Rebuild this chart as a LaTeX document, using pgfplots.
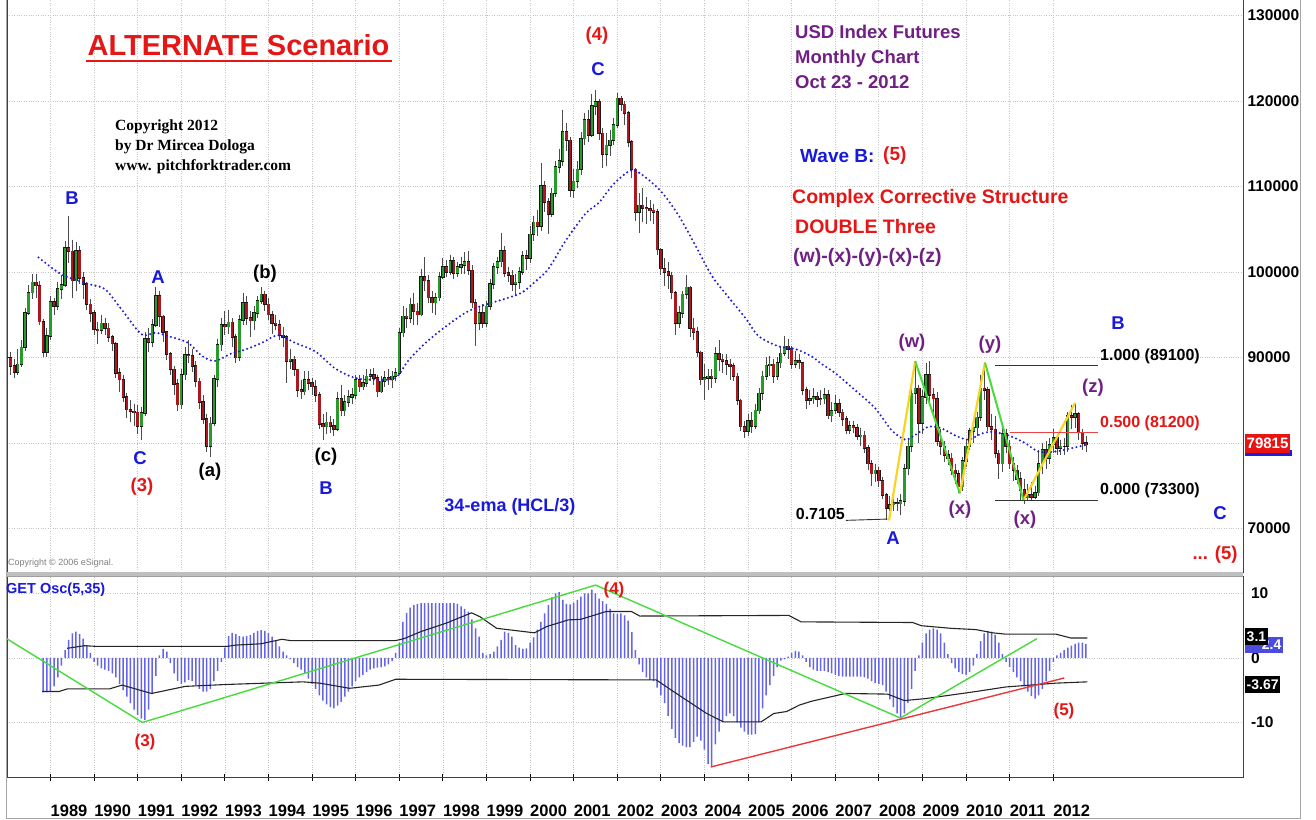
\documentclass[border=0pt]{standalone}
\usepackage{fontspec}
\setmainfont{Liberation Sans}
\newfontfamily\timesfont{Liberation Serif}
\usepackage{pgfplots}
\usepackage{pgfplotstable}
\pgfplotsset{compat=1.18}

\definecolor{upgreen}{RGB}{40,155,45}
\definecolor{dnred}{RGB}{170,25,30}
\definecolor{emablue}{RGB}{30,30,215}
\definecolor{histblue}{RGB}{100,100,232}
\definecolor{wpurple}{RGB}{112,32,132}
\definecolor{lblred}{RGB}{228,22,22}
\definecolor{lblblue}{RGB}{25,25,220}
\definecolor{trgreen}{RGB}{70,220,60}
\definecolor{tryellow}{RGB}{250,212,35}
\definecolor{boxred}{RGB}{232,20,20}
\newcommand{\fs}[1]{\fontsize{#1}{#1}\selectfont}

% monthly candles, Jan 1988 .. Oct 2012 (close, high, low); open = previous close
\pgfplotstableread[row sep=\\]{
c h l\\
90.0 92.8 89.0\\ 89.0 90.6 88.0\\ 88.3 89.8 87.6\\ 89.2 91.0 87.9\\ 91.2 92.0 88.9\\ 95.2 95.8 90.8\\
97.6 98.5 95.0\\ 98.8 99.8 96.8\\ 98.4 99.8 97.0\\ 94.2 98.9 93.8\\ 90.6 94.5 90.0\\ 92.5 93.5 90.0\\
96.5 97.2 92.0\\ 96.0 97.0 95.0\\ 98.0 98.8 95.5\\ 98.5 99.6 96.8\\ 102.8 103.6 98.2\\ 102.4 106.6 101.0\\
99.0 103.8 97.0\\ 102.5 103.5 97.8\\ 99.3 103.0 98.6\\ 98.6 100.0 96.8\\ 96.2 98.8 95.6\\ 95.2 96.8 94.2\\
93.3 95.6 92.6\\ 93.2 94.2 91.6\\ 94.0 95.0 92.8\\ 93.4 94.6 92.6\\ 92.4 94.0 91.8\\ 91.6 92.6 90.8\\
88.2 91.8 87.6\\ 87.4 88.8 86.0\\ 85.4 88.0 84.8\\ 83.9 85.8 82.9\\ 83.7 85.0 82.4\\ 83.6 84.6 82.0\\
82.0 84.4 81.0\\ 83.5 84.2 80.4\\ 92.2 93.0 83.2\\ 91.8 93.4 90.6\\ 93.8 94.5 91.2\\ 97.2 98.3 93.6\\
94.8 97.8 93.6\\ 93.0 95.0 91.8\\ 90.4 92.6 89.7\\ 88.6 90.6 88.0\\ 86.9 89.0 85.6\\ 84.5 87.5 83.7\\
88.0 88.6 84.0\\ 90.3 91.2 87.4\\ 90.2 92.0 89.4\\ 89.0 91.0 88.3\\ 87.2 89.6 86.6\\ 84.8 87.6 84.0\\
82.8 85.6 82.2\\ 79.6 83.4 79.0\\ 82.3 83.0 78.4\\ 87.5 88.0 82.0\\ 91.5 92.2 86.5\\ 93.8 94.6 90.8\\
93.6 95.4 92.6\\ 94.1 95.6 92.8\\ 92.4 94.6 91.2\\ 90.0 92.8 89.3\\ 94.4 95.0 89.6\\ 96.4 97.5 93.8\\
94.6 97.2 93.8\\ 94.3 95.4 92.4\\ 95.2 96.0 93.2\\ 96.6 97.2 94.6\\ 97.4 98.2 96.2\\ 96.2 97.8 95.4\\
95.0 97.0 94.4\\ 94.0 95.4 92.8\\ 93.8 95.0 93.2\\ 92.6 94.4 92.0\\ 92.4 93.6 91.2\\ 89.6 92.6 87.0\\
89.8 91.0 88.6\\ 88.6 90.2 87.8\\ 86.2 88.6 85.4\\ 86.0 87.4 85.2\\ 87.4 88.4 85.6\\ 87.0 88.4 86.2\\
86.6 87.6 85.6\\ 85.6 87.4 84.8\\ 82.2 86.0 81.6\\ 81.9 83.4 80.4\\ 82.4 83.6 81.0\\ 82.0 83.2 81.2\\
81.6 82.8 80.8\\ 85.2 86.0 81.4\\ 83.8 86.8 83.2\\ 84.8 85.6 83.2\\ 85.4 86.2 84.2\\ 85.6 86.4 84.6\\
87.4 88.0 85.2\\ 86.6 88.0 86.0\\ 87.0 88.0 86.2\\ 87.8 88.6 86.6\\ 88.0 88.6 87.2\\ 87.6 88.8 86.8\\
86.0 88.0 85.4\\ 87.2 87.8 85.8\\ 87.6 88.4 86.6\\ 87.4 88.6 86.8\\ 87.8 88.4 86.4\\ 88.2 88.8 87.2\\
92.9 93.4 88.0\\ 94.8 96.0 92.4\\ 94.6 95.8 93.4\\ 96.2 97.0 94.0\\ 95.4 97.6 93.8\\ 95.0 96.4 93.8\\
99.4 100.4 94.8\\ 99.0 101.7 97.8\\ 97.0 99.6 96.4\\ 96.4 97.8 95.2\\ 97.0 97.6 95.0\\ 99.4 100.0 96.6\\
100.6 101.6 99.2\\ 100.0 101.4 99.4\\ 101.3 102.0 99.6\\ 99.9 101.8 99.2\\ 100.6 101.2 99.4\\ 100.8 101.8 99.8\\
101.2 102.3 99.8\\ 100.2 102.4 99.6\\ 96.4 100.8 95.8\\ 94.0 96.8 91.4\\ 95.2 96.0 93.2\\ 94.0 96.2 93.4\\
96.0 96.6 93.6\\ 98.6 99.2 95.6\\ 100.6 101.0 98.0\\ 101.2 101.8 99.8\\ 102.5 104.6 100.6\\ 99.9 103.0 99.4\\
99.6 100.6 98.8\\ 98.6 100.2 97.8\\ 98.8 99.8 97.2\\ 100.0 100.6 98.0\\ 101.9 102.4 99.6\\ 101.6 102.6 100.2\\
104.4 105.4 101.0\\ 105.8 106.6 103.6\\ 105.4 107.2 104.2\\ 110.1 112.7 104.8\\ 108.2 110.6 107.0\\ 106.8 108.6 104.4\\
109.2 109.8 106.4\\ 112.3 113.0 108.8\\ 113.0 114.4 111.6\\ 116.4 118.9 112.4\\ 115.4 117.4 114.2\\ 109.6 115.8 108.8\\
110.6 112.0 108.6\\ 112.0 113.0 109.8\\ 115.6 116.4 111.4\\ 117.8 118.6 114.8\\ 116.0 119.0 115.2\\ 119.4 120.8 115.8\\
119.9 121.3 118.4\\ 116.2 120.2 115.4\\ 113.8 116.8 112.2\\ 114.8 116.2 112.4\\ 115.4 116.6 113.6\\ 117.2 118.0 114.8\\
120.3 120.9 116.8\\ 119.6 120.6 118.8\\ 118.6 120.0 117.2\\ 115.2 118.8 114.6\\ 112.0 115.4 111.0\\ 107.0 112.2 106.0\\
107.8 109.2 104.6\\ 107.5 109.8 105.8\\ 107.4 108.8 105.6\\ 107.2 108.4 106.0\\ 107.0 108.0 105.6\\ 102.6 107.4 102.0\\
100.4 102.8 99.6\\ 100.0 101.6 98.4\\ 99.6 101.2 98.0\\ 97.6 100.0 96.8\\ 94.0 97.8 92.6\\ 95.2 96.0 93.4\\
97.4 97.8 94.6\\ 98.2 99.6 96.8\\ 93.4 98.4 92.4\\ 93.0 94.6 92.0\\ 90.6 93.6 90.0\\ 87.4 90.8 86.8\\
87.6 89.2 85.0\\ 87.8 88.6 86.2\\ 87.6 88.6 86.4\\ 90.4 91.2 87.0\\ 89.8 92.0 88.4\\ 89.6 90.4 88.2\\
89.2 90.4 88.0\\ 89.0 89.8 87.4\\ 87.8 89.4 87.2\\ 85.0 88.2 84.4\\ 81.9 85.2 81.4\\ 81.4 82.6 80.6\\
82.6 83.4 80.8\\ 82.0 83.6 81.2\\ 83.8 84.6 81.6\\ 85.8 86.4 83.4\\ 87.8 88.4 85.0\\ 89.1 90.0 87.4\\
89.2 90.2 87.8\\ 87.8 89.8 87.0\\ 89.4 90.0 87.4\\ 90.5 91.2 88.8\\ 91.3 92.5 90.2\\ 91.0 92.2 89.8\\
89.2 91.4 88.6\\ 89.6 90.8 88.8\\ 89.4 90.4 88.6\\ 86.2 89.4 85.6\\ 85.0 86.6 84.0\\ 85.2 86.2 84.4\\
85.4 86.4 84.6\\ 85.1 86.0 84.2\\ 85.2 86.2 84.4\\ 85.6 86.4 84.6\\ 83.2 86.2 82.8\\ 83.8 84.8 82.4\\
84.6 85.6 83.4\\ 83.6 85.2 83.0\\ 82.8 84.0 82.0\\ 81.5 83.2 81.0\\ 82.0 82.6 81.0\\ 81.8 82.6 81.2\\
80.8 82.2 80.4\\ 80.9 81.8 79.6\\ 79.4 81.4 78.8\\ 77.6 79.8 76.8\\ 76.4 78.0 75.0\\ 76.8 77.6 75.4\\
75.6 77.2 74.8\\ 73.9 76.0 73.4\\ 72.4 74.2 71.0\\ 72.8 73.8 72.0\\ 73.0 73.8 72.0\\ 72.9 73.6 72.0\\
73.2 74.0 71.6\\ 77.0 77.6 72.6\\ 79.6 80.6 76.2\\ 85.8 87.0 79.0\\ 86.4 89.6 84.6\\ 82.3 86.8 80.0\\
85.4 86.2 81.0\\ 88.0 89.4 84.6\\ 85.6 89.6 84.6\\ 85.2 86.4 83.2\\ 80.2 86.0 79.6\\ 79.6 81.6 78.6\\
78.6 80.2 77.8\\ 78.2 79.2 77.4\\ 76.8 78.8 76.2\\ 76.4 77.6 75.2\\ 74.9 76.8 74.1\\ 77.9 78.4 74.4\\
79.6 80.4 77.2\\ 81.4 81.8 79.2\\ 81.8 82.4 80.0\\ 83.0 83.6 80.8\\ 86.4 88.0 82.6\\ 86.2 89.4 85.0\\
81.9 86.6 81.4\\ 81.6 83.4 80.4\\ 78.8 83.2 78.2\\ 77.6 79.2 75.8\\ 81.1 81.8 76.6\\ 79.6 81.6 78.8\\
77.6 80.4 77.0\\ 76.8 78.4 75.6\\ 75.8 77.4 75.2\\ 74.5 76.6 73.2\\ 73.6 75.8 72.9\\ 73.9 75.2 73.2\\
73.7 75.4 73.2\\ 74.2 75.0 73.4\\ 77.6 79.2 73.8\\ 79.2 80.0 76.4\\ 78.2 80.2 77.0\\ 79.8 80.6 77.6\\
80.6 81.6 78.8\\ 79.4 81.0 78.6\\ 79.6 80.4 78.6\\ 79.6 80.6 78.6\\ 83.2 83.6 78.9\\ 83.0 84.4 81.6\\
83.4 84.6 81.8\\ 81.2 83.6 80.4\\ 80.0 81.6 79.2\\ 79.8 80.8 79.0\\
}\prices
\pgfplotstablecreatecol[create col/expr={1988+\pgfplotstablerow/12}]{t}\prices
\pgfplotstablecreatecol[create col/assign/.code={%
  \ifnum\pgfplotstablerow=0 \getthisrow{c}{\pc}\else\getprevrow{c}{\pc}\fi
  \pgfkeyslet{/pgfplots/table/create col/next content}\pc}]{o}\prices

% 34-ema (HCL/3) (m = months since Jan 1988)
\pgfplotstableread[row sep=\\]{
m p\\
8.7 101.7\\ 15.1 99.7\\ 22.4 98.6\\ 27 98.0\\ 31.6 95.6\\ 37.1 92.7\\ 40.8 92.9\\ 44.4 92.5\\
49.9 91.7\\ 53.6 90.2\\ 57.3 89.6\\ 61.9 90.5\\ 65.5 90.9\\ 70.1 91.7\\ 74.7 92.6\\ 79.4 91.7\\
84.9 90.7\\ 90.4 88.7\\ 95.9 87.6\\ 101.4 87.4\\ 106.9 87.6\\ 110.6 89.7\\ 115.2 91.7\\ 119.8 93.3\\
125.3 95.0\\ 129 95.8\\ 133.5 96.4\\ 138.1 97.0\\ 141.8 97.6\\ 145.5 98.9\\ 149.1 100.4\\ 153.7 103.6\\
159.2 106.8\\ 162.9 108.1\\ 166.6 110.1\\ 170.2 111.5\\ 172.5 111.9\\ 175.7 111.1\\ 180.3 109.3\\ 184.9 106.6\\
189.5 103.1\\ 194.1 99.5\\ 198.7 97.0\\ 203.3 94.6\\ 206.9 92.5\\ 212.4 91.3\\ 217 91.0\\ 221.6 90.1\\
224 89.3\\ 227.9 88.2\\ 233.4 86.2\\ 238.9 84.1\\ 243.5 81.5\\ 247.2 80.4\\ 249.9 80.9\\ 253.6 81.9\\
257.3 81.7\\ 260.9 80.9\\ 264.6 80.4\\ 268.3 81.1\\ 271 81.3\\ 275.6 80.9\\ 280.2 80.0\\ 283.9 79.0\\
288.5 79.0\\ 293.1 79.4\\ 297.2 79.8\\
}\emaline

% GET Osc(5,35) histogram, Nov 1988 .. Oct 2012
\pgfplotstableread[row sep=\\]{
v\\
-5.3\\ -5.3\\ -5.2\\ -4.4\\ -3.0\\ -1.2\\ 1.2\\ 2.8\\ 3.8\\ 4.1\\
3.7\\ 3.0\\ 2.0\\ 0.8\\ -0.6\\ -1.2\\ -1.6\\ -1.8\\ -2.0\\ -2.4\\
-3.0\\ -4.0\\ -5.0\\ -6.0\\ -7.0\\ -8.0\\ -8.8\\ -9.4\\ -9.6\\ -8.0\\
-5.6\\ -2.8\\ 0.4\\ 1.4\\ 1.0\\ -0.8\\ -2.4\\ -3.6\\ -4.0\\ -3.8\\
-3.4\\ -3.6\\ -4.2\\ -4.8\\ -5.2\\ -5.2\\ -4.8\\ -3.6\\ -2.0\\ -0.6\\
1.6\\ 3.4\\ 3.9\\ 3.7\\ 3.4\\ 3.3\\ 3.4\\ 3.6\\ 3.9\\ 4.2\\
4.3\\ 4.2\\ 3.9\\ 3.3\\ 2.6\\ 1.8\\ 1.0\\ 0.4\\ -0.2\\ -0.8\\
-1.4\\ -1.8\\ -2.4\\ -3.2\\ -4.0\\ -4.8\\ -5.8\\ -6.6\\ -7.2\\ -7.6\\
-7.8\\ -7.4\\ -6.8\\ -6.0\\ -5.2\\ -4.4\\ -3.6\\ -3.0\\ -2.6\\ -2.2\\
-1.8\\ -1.6\\ -1.5\\ -1.4\\ -1.3\\ -1.0\\ -0.5\\ 0.8\\ 2.4\\ 5.6\\
7.0\\ 7.8\\ 8.2\\ 8.4\\ 8.5\\ 8.5\\ 8.5\\ 8.5\\ 8.5\\ 8.5\\
8.5\\ 8.5\\ 8.5\\ 8.5\\ 8.4\\ 8.0\\ 7.6\\ 7.2\\ 6.0\\ 4.6\\
3.3\\ 0.8\\ 0.4\\ 0.6\\ 1.0\\ 1.8\\ 2.8\\ 4.1\\ 3.9\\ 3.3\\
2.0\\ 1.6\\ 1.4\\ 1.5\\ 2.4\\ 3.2\\ 4.4\\ 5.6\\ 6.9\\ 8.2\\
9.4\\ 10.0\\ 10.2\\ 9.0\\ 8.4\\ 8.3\\ 8.6\\ 9.0\\ 9.5\\ 10.0\\
10.0\\ 10.6\\ 10.0\\ 9.2\\ 8.8\\ 8.4\\ 7.6\\ 6.9\\ 6.8\\ 6.9\\
6.6\\ 5.8\\ 4.0\\ 1.2\\ -1.0\\ -2.2\\ -3.0\\ -3.4\\ -3.6\\ -4.6\\
-5.8\\ -7.0\\ -9.0\\ -11.0\\ -12.4\\ -13.2\\ -13.6\\ -13.8\\ -13.8\\ -13.0\\
-12.2\\ -12.8\\ -14.2\\ -16.4\\ -16.8\\ -13.4\\ -11.4\\ -9.8\\ -9.0\\ -8.6\\
-9.0\\ -10.0\\ -10.8\\ -11.4\\ -11.9\\ -11.9\\ -11.8\\ -10.0\\ -7.8\\ -5.8\\
-4.2\\ -2.8\\ -1.4\\ -0.4\\ -0.2\\ 0.2\\ 0.8\\ 1.1\\ 1.0\\ 0.4\\
-0.6\\ -1.4\\ -1.8\\ -2.0\\ -2.0\\ -2.0\\ -2.2\\ -2.4\\ -2.6\\ -2.8\\
-2.9\\ -2.9\\ -2.9\\ -2.9\\ -2.9\\ -2.9\\ -3.0\\ -3.2\\ -3.6\\ -3.9\\
-4.0\\ -4.2\\ -5.2\\ -6.4\\ -7.6\\ -8.6\\ -9.3\\ -8.6\\ -7.0\\ -4.8\\
-2.0\\ 0.4\\ 2.4\\ 3.8\\ 4.4\\ 4.6\\ 4.4\\ 3.8\\ 2.4\\ 0.6\\
-0.8\\ -1.6\\ -2.2\\ -2.5\\ -2.6\\ -2.2\\ -1.2\\ 0.6\\ 2.6\\ 3.8\\
4.2\\ 4.1\\ 3.6\\ 2.4\\ 0.6\\ -0.6\\ -1.4\\ -2.2\\ -3.0\\ -3.6\\
-4.4\\ -5.2\\ -5.9\\ -6.3\\ -5.8\\ -4.8\\ -3.6\\ -2.0\\ -0.6\\ 0.4\\
0.8\\ 1.2\\ 1.6\\ 1.9\\ 2.2\\ 2.4\\ 2.4\\ 2.2\\
}\oschist
\pgfplotstablecreatecol[create col/expr={1988+(\pgfplotstablerow+10)/12}]{t}\oschist

% oscillator bands
\pgfplotstableread[row sep=\\]{
m v\\
16.6 1.5\\ 21.3 1.9\\ 24.7 1.8\\ 60.7 1.8\\ 63 2.0\\ 69.9 2.2\\ 75.7 2.9\\ 78 2.7\\ 107 2.7\\
109.3 3.0\\ 114 4.1\\ 120.9 5.4\\ 127.9 7.0\\ 130.2 6.4\\ 134.8 4.6\\ 145.2 3.9\\ 148.7 4.9\\
154.5 5.9\\ 158 6.0\\ 164.9 7.2\\ 171.9 7.2\\ 174.2 6.5\\ 215.2 6.6\\ 218.6 5.6\\ 249.3 5.5\\
251.7 5.0\\ 259.8 4.6\\ 266.7 4.4\\ 271.3 3.9\\ 274.8 3.7\\ 288.7 3.7\\ 292.8 3.1\\ 297.4 3.1\\
}\upband
\pgfplotstableread[row sep=\\]{
m v\\
9.7 -5.2\\ 14.3 -5.2\\ 16.6 -4.8\\ 28.2 -4.8\\ 31.7 -4.2\\ 39.8 -5.5\\ 49.1 -4.4\\ 60.7 -4.1\\
81.5 -3.7\\ 86.1 -3.9\\ 94.3 -4.7\\ 102.4 -4.2\\ 107 -3.3\\ 178.7 -3.4\\ 185.6 -6.0\\ 192.6 -8.6\\
197.2 -9.9\\ 207.6 -9.9\\ 211.1 -8.6\\ 214.6 -8.3\\ 218.1 -7.3\\ 221.5 -6.7\\ 230.8 -5.5\\ 242.4 -5.6\\
247 -6.6\\ 252.8 -6.3\\ 266.7 -5.2\\ 274.8 -4.5\\ 288.7 -3.9\\ 297.4 -3.7\\
}\lowband

\pgfplotsset{
  panel/.style={scale only axis, width=1236pt, xmin=1988.0023, xmax=2016.351,
    xtick={1989,...,2012}, grid=major,
    grid style={gray!45, dotted, line width=0.7pt},
    axis line style={black!75, line width=0.9pt},
    yticklabel pos=right,
    yticklabel style={font=\bfseries\fs{15.5}, anchor=west, xshift=1pt}},
  nomark/.style={only marks, mark=*, mark size=0pt, mark options={draw=none, fill=none}},
  body/.style={nomark, unbounded coords=discard,
    error bars/.cd, y dir=both, y explicit, error mark=none,
    error bar style={line width=#1}},
}

\begin{document}
\begin{tikzpicture}[x=1pt,y=1pt]
\fill[white] (0,0) rectangle (1316,819);
\path[use as bounding box] (0,0) rectangle (1316,819);

% price panel
\begin{axis}[panel, at={(7pt,247pt)}, anchor=south west, height=574pt,
  ymin=64.91, ymax=132.05, xticklabels={}, major tick length=0pt,
  ytick={70,80,...,130},
  yticklabels={70000,80000,90000,100000,110000,120000,130000}]
\addplot[nomark,
  error bars/.cd, y dir=minus, y explicit, error mark=none,
  error bar style={line width=0.8pt, black!70}]
  table[x=t, y=h, y error minus expr=\thisrow{h}-\thisrow{l}] {\prices};
\addplot[body=3.3pt, error bar style={black!90}]
  table[x=t, y expr={(\thisrow{o}+\thisrow{c})/2},
        y error expr={abs(\thisrow{c}-\thisrow{o})/2+0.08}] {\prices};
\addplot[body=2.4pt, error bar style={upgreen}]
  table[x=t, y expr={\thisrow{c}>=\thisrow{o} ? (\thisrow{o}+\thisrow{c})/2 : nan},
        y error expr={abs(\thisrow{c}-\thisrow{o})/2}] {\prices};
\addplot[body=2.4pt, error bar style={dnred}]
  table[x=t, y expr={\thisrow{c}<\thisrow{o} ? (\thisrow{o}+\thisrow{c})/2 : nan},
        y error expr={abs(\thisrow{c}-\thisrow{o})/2}] {\prices};
\addplot[emablue, line width=2.3pt, line cap=round, dash pattern=on 0pt off 4.3pt, smooth]
  table[x expr=1988+\thisrow{m}/12, y=p] {\emaline};
% wave overlay
\addplot[tryellow, line width=2.2pt] coordinates {(2008.233,70.95) (2008.833,89.57)};
\addplot[tryellow, line width=2.2pt] coordinates {(2009.858,74.1) (2010.433,89.4)};
\addplot[tryellow, line width=2.2pt] coordinates {(2011.317,73.3) (2012.5,84.7)};
\addplot[trgreen, line width=2.0pt] coordinates {(2008.833,89.57) (2009.858,74.1)};
\addplot[trgreen, line width=2.0pt] coordinates {(2010.433,89.4) (2011.317,73.3)};
% retracement levels
\addplot[black!80, line width=1.2pt] coordinates {(2010.667,89.1) (2013.025,89.1)};
\addplot[lblred!80, line width=1.2pt] coordinates {(2011.0,81.2) (2013.025,81.2)};
\addplot[black!80, line width=1.2pt] coordinates {(2010.667,73.3) (2013.025,73.3)};
\addplot[black!80, line width=0.9pt] coordinates {(2007.242,70.95) (2008.192,71.1)};
\end{axis}

% oscillator panel
\begin{axis}[panel, at={(7pt,42pt)}, anchor=south west, height=201pt,
  ymin=-18.45, ymax=12.71,
  xticklabels={1989,1990,1991,1992,1993,1994,1995,1996,1997,1998,1999,2000,
    2001,2002,2003,2004,2005,2006,2007,2008,2009,2010,2011,2012},
  xtick pos=left, tick align=center, major tick length=7pt,
  xtick style={black, line width=0.8pt},
  xticklabel style={font=\bfseries\fs{16.5}, anchor=north west, inner sep=0pt, yshift=-24pt},
  ytick={-10,0,10}, yticklabels={-10,0,10}, ytick style={draw=none}]
\addplot[ybar, bar width=1.5pt, fill=histblue, draw=none] table[x=t, y=v] {\oschist};
\addplot[black!85, line width=1.1pt] table[x expr=1988+\thisrow{m}/12, y=v] {\upband};
\addplot[black!85, line width=1.1pt] table[x expr=1988+\thisrow{m}/12, y=v] {\lowband};
\addplot[trgreen, line width=1.4pt] coordinates
  {(1987.983,3.05) (1991.108,-10.0) (2001.5,11.3) (2008.492,-9.3) (2011.625,3.0)};
\addplot[lblred!85, line width=1.4pt] coordinates {(2004.142,-16.9) (2012.25,-3.1)};
\end{axis}

% panel separator and outer frame
\fill[gray!50] (7,243) rectangle (1243,247);
\draw[gray!75, line width=0.8pt] (7,243) -- (1243,243);
\draw[gray!70, line width=1pt] (6.5,825) -- (6.5,0.8) -- (1300,0.8) -- (1300,825);

\begin{scope}[every node/.style={inner sep=0pt, font=\bfseries\fs{18.5}}]
% headings
\node[lblred, font=\bfseries\fs{29}] at (238.5,774) {ALTERNATE Scenario};
\draw[lblred, line width=2.5pt] (86,758) -- (392,758);
\node[anchor=west, align=left, font=\timesfont\bfseries\fontsize{15.5}{20}\selectfont]
  at (115,672) {Copyright 2012\\by Dr Mircea Dologa\\www. pitchforktrader.com};
\node[anchor=west, align=left, wpurple, font=\bfseries\fontsize{18.5}{25}\selectfont]
  at (795,762) {USD Index Futures\\Monthly Chart\\Oct 23 - 2012};
\node[anchor=west, lblblue, font=\bfseries\fs{19}] at (800,663) {Wave B:};
\node[anchor=west, lblred, font=\bfseries\fs{19}] at (883,663) {(5)};
\node[anchor=west, lblred, font=\bfseries\fs{19.5}] at (792,621) {Complex Corrective Structure};
\node[anchor=west, lblred, font=\bfseries\fs{19.5}] at (795,592) {DOUBLE Three};
\node[anchor=west, wpurple, font=\bfseries\fs{19.5}] at (793,562) {(w)-(x)-(y)-(x)-(z)};
% wave labels
\node[lblblue] at (72,621) {B};
\node[lblblue] at (158,542) {A};
\node at (265,545) {(b)};
\node[lblblue] at (140,361) {C};
\node[lblred] at (142,332) {(3)};
\node at (210,347) {(a)};
\node at (326,362) {(c)};
\node[lblblue] at (326,331) {B};
\node[lblred] at (597,783) {(4)};
\node[lblblue] at (598,750) {C};
\node[lblblue, font=\bfseries\fs{18}] at (510,312) {34-ema (HCL/3)};
\node[anchor=east, font=\bfseries\fs{16}] at (845,305) {0.7105};
\node[lblblue] at (893,281) {A};
\node[wpurple] at (912,476) {(w)};
\node[wpurple] at (990,474) {(y)};
\node[wpurple] at (960,309) {(x)};
\node[wpurple] at (1025,299) {(x)};
\node[wpurple] at (1093,431) {(z)};
\node[lblblue] at (1118,496) {B};
\node[lblblue] at (1220,306) {C};
\node[lblred] at (1215,264) {... (5)};
\node[anchor=west, font=\bfseries\fs{16}] at (1100,463) {1.000 (89100)};
\node[anchor=west, lblred, font=\bfseries\fs{16}] at (1100,396) {0.500 (81200)};
\node[anchor=west, font=\bfseries\fs{16}] at (1100,329) {0.000 (73300)};
\node[anchor=west, gray, font=\fs{9}] at (8,256) {Copyright © 2006 eSignal.};
% oscillator labels
\node[anchor=west, lblblue, font=\bfseries\fs{14.5}] at (6,229) {GET Osc(5,35)};
\node[lblred, font=\bfseries\fs{17}] at (145,77) {(3)};
\node[lblred, font=\bfseries\fs{17}] at (614,229) {(4)};
\node[lblred, font=\bfseries\fs{17}] at (1064,108) {(5)};
% value boxes
\fill[emablue] (1245,363) rectangle (1292,369);
\node[anchor=west, fill=boxred, text=white, font=\bfseries\fs{15}, inner sep=1.5pt,
  minimum height=19pt] at (1245,375.5) {79815};
\node[anchor=east, fill=emablue!80, text=white, font=\bfseries\fs{14}, inner sep=1.5pt,
  minimum height=16pt, minimum width=38pt, text width=35pt, align=right] at (1283,174) {2.4};
\node[anchor=west, fill=black, text=white, font=\bfseries\fs{14}, inner sep=1.5pt,
  minimum height=17pt] at (1245,182.5) {3.1};
\node[anchor=west, fill=black, text=white, font=\bfseries\fs{14}, inner sep=1.5pt,
  minimum height=17pt] at (1245,134.5) {-3.67};
\end{scope}
\end{tikzpicture}
\end{document}
